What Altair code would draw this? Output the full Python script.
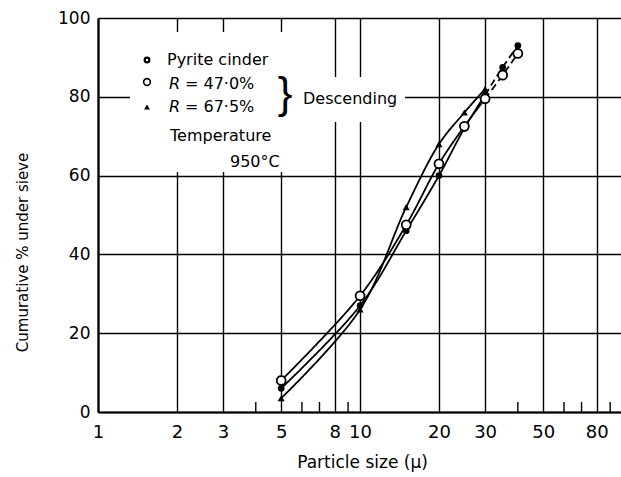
import altair as alt
import pandas as pd

# ---- data ----
sizes = [5, 10, 15, 20, 25, 30, 35, 40]
pyrite = [6, 27, 46, 60, 72, 80.5, 87.5, 93]
r470 = [8, 29.5, 47.5, 63, 72.5, 79.5, 85.5, 91]
r675_sizes = [5, 10, 15, 20, 25, 30]
r675 = [3.5, 26, 52, 68, 76, 82]

x_ticks = [1, 2, 3, 5, 8, 10, 20, 30, 50, 80]
x_minor = [4, 6, 7, 9, 40, 60, 70, 90]
y_ticks = [0, 20, 40, 60, 80, 100]

FONT = "DejaVu Sans"
W, H = 523, 394

rows = []
for name, xs, ys in [("pyrite", sizes, pyrite), ("r470", sizes, r470), ("r675", r675_sizes, r675)]:
    for x, y in zip(xs, ys):
        if x <= 30:
            rows.append({"series": name, "seg": "solid", "key": name + "_s", "size": x, "pct": y})
        if x >= 30:
            rows.append({"series": name, "seg": "dashed", "key": name + "_d", "size": x, "pct": y})
lines_df = pd.DataFrame(rows)

pts = pd.concat([
    pd.DataFrame({"series": "pyrite", "size": sizes, "pct": pyrite}),
    pd.DataFrame({"series": "r470", "size": sizes, "pct": r470}),
    pd.DataFrame({"series": "r675", "size": r675_sizes, "pct": r675}),
])

xscale = alt.Scale(type="log", domain=[1, 99], nice=False)
yscale = alt.Scale(domain=[0, 100], nice=False)

x_axis = alt.Axis(values=x_ticks, format="d", grid=True, gridColor="black", gridWidth=1.4,
                  gridOpacity=1, ticks=False, domain=True, domainColor="black", domainWidth=2.2,
                  labelFont=FONT, labelFontSize=18, labelColor="black", labelPadding=11,
                  title="Particle size  (μ)", titleFont=FONT, titleFontSize=17,
                  titleFontWeight="normal", titleColor="black", titleY=50,
                  titleBaseline="middle", titleX=264, labelFlush=False)
y_axis = alt.Axis(values=y_ticks, grid=True, gridColor="black", gridWidth=1.4, gridOpacity=1,
                  ticks=False, domain=True, domainColor="black", domainWidth=2.2,
                  labelFont=FONT, labelFontSize=17, labelColor="black", labelPadding=8,
                  title="Cumurative  %  under  sieve", titleFont=FONT, titleFontSize=15,
                  titleFontWeight="normal", titleColor="black", titleX=-76, titleY=234,
                  titleBaseline="middle", titleAngle=270, labelFlush=False)

one = pd.DataFrame({"a": [0]})

X = alt.X("size:Q", scale=xscale, axis=x_axis)
Y = alt.Y("pct:Q", scale=yscale, axis=y_axis)

base = alt.Chart(lines_df).mark_line(color="black", strokeWidth=1.8, interpolate="catmull-rom").encode(
    x=X, y=Y,
    detail="key:N",
    strokeDash=alt.StrokeDash("seg:N", scale=alt.Scale(domain=["solid", "dashed"], range=[[1, 0], [7, 4]]), legend=None),
)

# white patches behind the legend text (cover the grid like in the original)
mask1 = alt.Chart(one).mark_rect(color="white").encode(
    x=alt.value(32), x2=alt.value(202), y=alt.value(14), y2=alt.value(154))
mask2 = alt.Chart(one).mark_rect(color="white").encode(
    x=alt.value(202), x2=alt.value(307), y=alt.value(59), y2=alt.value(104))

minor = alt.Chart(pd.DataFrame({"size": x_minor})).mark_rule(color="black", strokeWidth=1.4).encode(
    x=X, y=alt.value(H - 10), y2=alt.value(H))

p_pyr = alt.Chart(pts).transform_filter("datum.series == 'pyrite'").mark_point(
    shape="circle", filled=True, color="black", size=45, opacity=1).encode(x=X, y=Y)
p_tri = alt.Chart(pts).transform_filter("datum.series == 'r675'").mark_point(
    shape="triangle-up", filled=True, color="black", size=50, opacity=1).encode(x=X, y=Y)
p_open = alt.Chart(pts).transform_filter("datum.series == 'r470'").mark_point(
    shape="circle", filled=True, fill="white", stroke="black", strokeWidth=1.8, size=80, opacity=1).encode(x=X, y=Y)


def txt(s, px, py, size=16, align="left", style="normal", font=FONT, weight="normal"):
    return alt.Chart(one).mark_text(text=s, font=font, fontSize=size, align=align, baseline="middle",
                                    fontStyle=style, fontWeight=weight, color="black").encode(
        x=alt.value(px), y=alt.value(py))


leg_pyr = alt.Chart(one).mark_point(shape="circle", filled=False, color="black", strokeWidth=2.2,
                                    size=22, opacity=1).encode(x=alt.value(49), y=alt.value(42))
leg_open = alt.Chart(one).mark_point(shape="circle", filled=True, fill="white", stroke="black",
                                     strokeWidth=1.6, size=45, opacity=1).encode(x=alt.value(49), y=alt.value(64))
leg_tri = alt.Chart(one).mark_point(shape="triangle-up", filled=True, color="black", size=35,
                                    opacity=1).encode(x=alt.value(49), y=alt.value(89))

texts = [
    txt("Pyrite  cinder", 69, 42),
    txt("R", 71, 66, style="italic"),
    txt("= 47·0%", 87, 66),
    txt("R", 71, 89, style="italic"),
    txt("= 67·5%", 87, 89),
    txt("}", 187, 77, size=44, align="center", font="Liberation Sans", weight="lighter"),
    txt("Descending", 205, 81),
    txt("Temperature", 72, 118),
    txt("950°C", 132, 144),
]

chart = alt.layer(base, mask1, mask2, minor, p_pyr, p_tri, p_open, leg_pyr, leg_open, leg_tri, *texts).properties(
    width=W, height=H,
    autosize=alt.AutoSizeParams(type="none"),
    padding={"left": 98, "top": 18, "right": 0, "bottom": 65},
    background="white",
).configure_view(stroke=None)

chart.save("out.html", embed_options={"renderer": "svg", "actions": False})
